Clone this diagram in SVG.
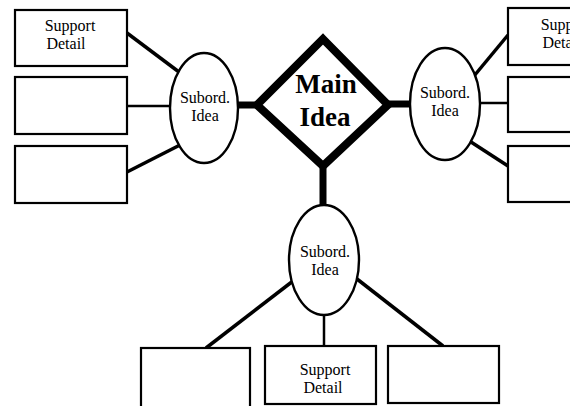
<svg xmlns="http://www.w3.org/2000/svg" width="570" height="406" viewBox="0 0 570 406">
  <style>
    .box { fill: #fff; stroke: #000; stroke-width: 2.2; }
    .oval { fill: #fff; stroke: #000; stroke-width: 2.4; }
    .main { fill: #fff; stroke: #000; stroke-width: 8; stroke-linejoin: miter; }
    .link { stroke: #000; stroke-width: 3.5; fill: none; }
    .thin { stroke: #000; stroke-width: 2.5; fill: none; }
    .trunk { stroke: #000; stroke-width: 7; fill: none; }
    .lbl { font-family: "Liberation Serif", "Times New Roman", serif; font-size: 16px; fill: #000; text-anchor: middle; }
    .big { font-family: "Liberation Serif", "Times New Roman", serif; font-size: 27px; font-weight: bold; fill: #000; text-anchor: middle; }
  </style>
  <rect width="570" height="406" fill="#fff"/>

  <g id="connectors">
    <!-- main idea to subordinate ideas -->
    <line class="trunk" x1="236" y1="105" x2="258" y2="105"/>
    <line class="trunk" x1="388" y1="104" x2="412" y2="104"/>
    <line class="trunk" x1="323" y1="165" x2="323" y2="207"/>
    <!-- left subordinate idea to details -->
    <line class="link" x1="127" y1="33" x2="179" y2="72"/>
    <line class="thin" x1="127" y1="106" x2="171" y2="106"/>
    <line class="link" x1="127" y1="172" x2="180" y2="145"/>
    <!-- right subordinate idea to details -->
    <line class="link" x1="474" y1="76" x2="508" y2="35"/>
    <line class="thin" x1="479" y1="103" x2="508" y2="103"/>
    <line class="link" x1="471" y1="142" x2="508" y2="166"/>
    <!-- bottom subordinate idea to details -->
    <line class="link" x1="293" y1="281" x2="206" y2="348"/>
    <line class="thin" x1="324" y1="315" x2="324" y2="346"/>
    <line class="link" x1="357" y1="279" x2="443" y2="346"/>
  </g>

  <g id="main-idea">
    <polygon class="main" points="323,39 388,105 323,166 257,105"/>
    <text class="big" x="326" y="93">Main</text>
    <text class="big" x="325" y="126">Idea</text>
  </g>

  <g id="sub-left">
    <ellipse class="oval" cx="204" cy="108" rx="34" ry="55"/>
    <text class="lbl" x="205" y="103">Subord.</text>
    <text class="lbl" x="205" y="121">Idea</text>
  </g>
  <g id="sub-right">
    <ellipse class="oval" cx="445" cy="104" rx="35" ry="56"/>
    <text class="lbl" x="445" y="98">Subord.</text>
    <text class="lbl" x="445" y="116">Idea</text>
  </g>
  <g id="sub-bottom">
    <ellipse class="oval" cx="324" cy="260" rx="35" ry="55"/>
    <text class="lbl" x="325" y="257">Subord.</text>
    <text class="lbl" x="325" y="275">Idea</text>
  </g>

  <g id="detail-left-1">
    <rect class="box" x="15" y="10" width="112" height="56"/>
    <text class="lbl" x="70" y="31">Support</text>
    <text class="lbl" x="66" y="49">Detail</text>
  </g>
  <g id="detail-left-2">
    <rect class="box" x="15" y="77" width="112" height="57"/>
  </g>
  <g id="detail-left-3">
    <rect class="box" x="15" y="146" width="112" height="57"/>
  </g>

  <g id="detail-right-1">
    <rect class="box" x="508" y="8" width="112" height="57"/>
    <text class="lbl" x="566" y="30">Support</text>
    <text class="lbl" x="562" y="48">Detail</text>
  </g>
  <g id="detail-right-2">
    <rect class="box" x="508" y="77" width="112" height="55"/>
  </g>
  <g id="detail-right-3">
    <rect class="box" x="508" y="146" width="112" height="56"/>
  </g>

  <g id="detail-bottom-1">
    <rect class="box" x="141" y="348" width="109" height="70"/>
  </g>
  <g id="detail-bottom-2">
    <rect class="box" x="265" y="346" width="111" height="58"/>
    <text class="lbl" x="325" y="375">Support</text>
    <text class="lbl" x="323" y="393">Detail</text>
  </g>
  <g id="detail-bottom-3">
    <rect class="box" x="388" y="346" width="111" height="57"/>
  </g>
</svg>
